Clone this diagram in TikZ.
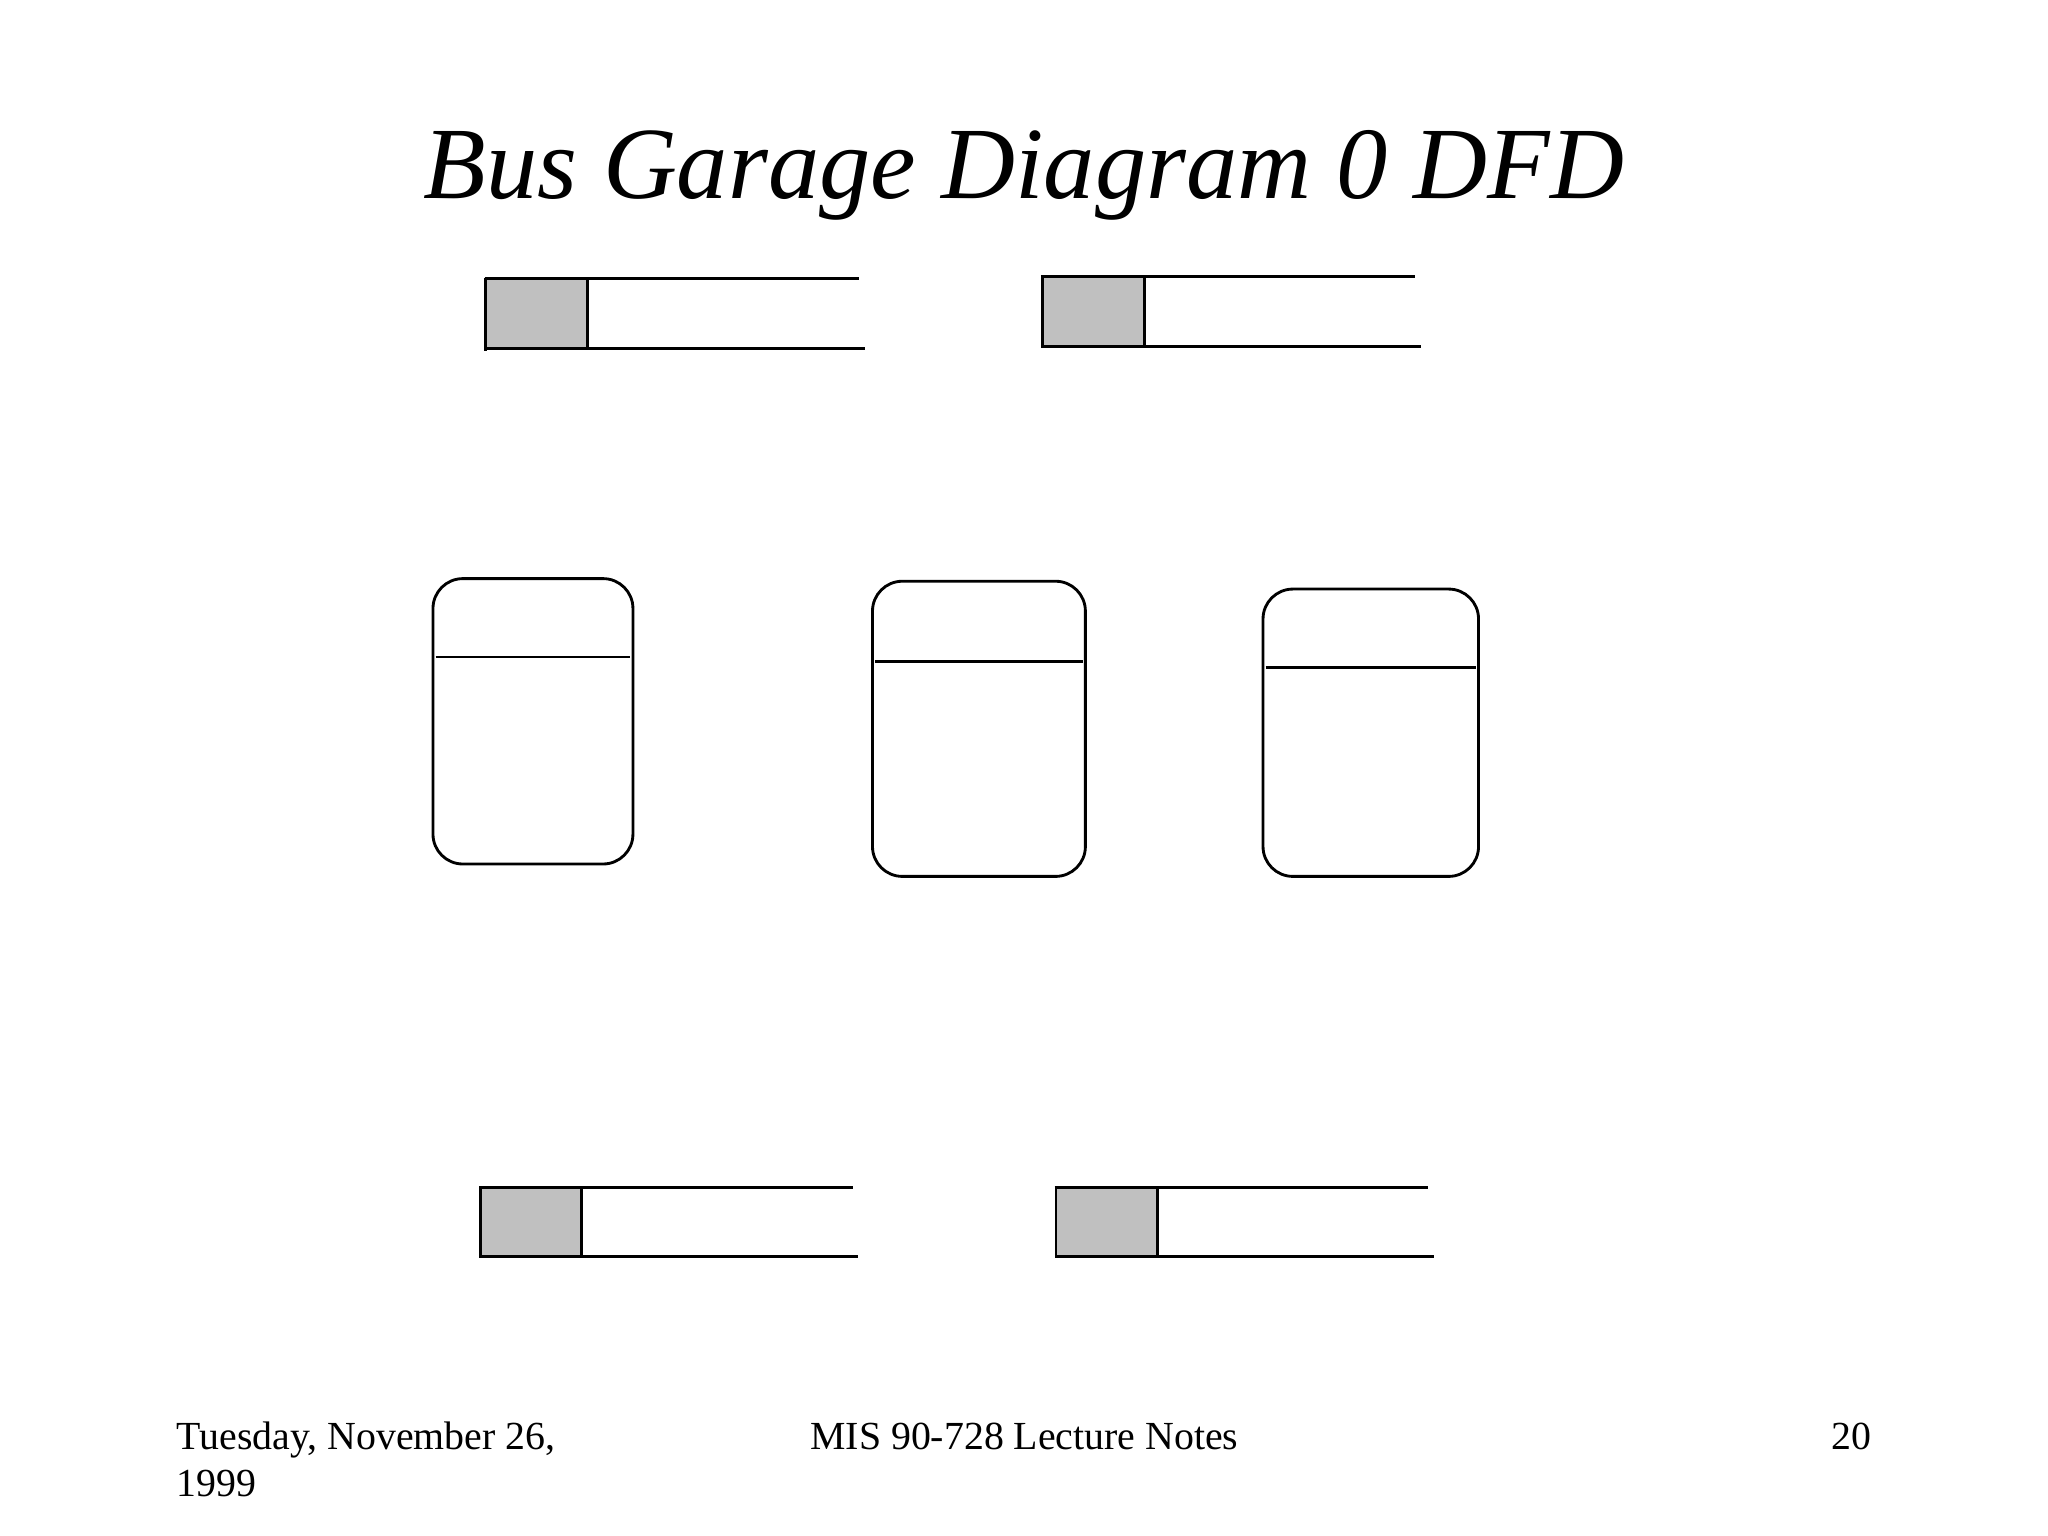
\documentclass[tikz,border=0pt]{standalone}
\usepackage{fontspec}
\setmainfont{Liberation Serif}
\definecolor{storegrey}{HTML}{C0C0C0}
\tikzset{
  ln/.style={draw=black, line width=1pt},
  greybox/.style={fill=storegrey},
  procbox/.style={draw=black, line width=1pt, rounded corners=10.5pt},
  ftext/.style={inner sep=0pt, font=\fontsize{14}{16.8}\selectfont},
}
\begin{document}
\begin{tikzpicture}[x=0.45918pt,y=-0.45918pt]
\useasboundingbox (0,0) rectangle (1568,1176);
% title
\node[anchor=base, inner sep=0pt, font=\fontsize{36}{43}\selectfont\itshape] (title) at (784,152) {Bus Garage Diagram 0 DFD};
% data store 1
\fill[greybox] (372,213) rectangle (450,267);
\draw[ln] (371,213) -- (658,213);
\draw[ln] (372,267) -- (662,267);
\draw[ln] (372,212.5) -- (372,268.5);
\draw[ln] (450,213) -- (450,267);
% data store 2
\fill[greybox] (798,212) rectangle (876,265);
\draw[ln] (797,212) -- (1083,212);
\draw[ln] (798,265) -- (1088,265);
\draw[ln] (798,211.5) -- (798,266.5);
\draw[ln] (876,212) -- (876,265);
% data store 3
\fill[greybox] (368,909) rectangle (445,962);
\draw[ln] (367,909) -- (653,909);
\draw[ln] (368,962) -- (657,962);
\draw[ln] (368,908.5) -- (368,963.5);
\draw[ln] (445,909) -- (445,962);
% data store 4
\fill[greybox] (808.5,909) rectangle (886.5,962);
\draw[ln] (807.5,909) -- (1093,909);
\draw[ln] (808.5,962) -- (1098,962);
\draw[ln] (808.5,908.5) -- (808.5,963.5);
\draw[ln] (886.5,909) -- (886.5,962);
% processes
\draw[procbox] (331.5,443) rectangle (484.6,661.5);
\draw[ln] (333.5,503) -- (482.6,503);
\draw[procbox] (668,445) rectangle (831,671);
\draw[ln] (670,506.5) -- (829,506.5);
\draw[procbox] (967,451) rectangle (1132,671);
\draw[ln] (969,511) -- (1130,511);
% footer
\node[ftext, anchor=base west] (date) at (135,1110) {Tuesday, November 26,};
\node[ftext, anchor=base west] (year) at (135,1146) {1999};
\node[ftext, anchor=base west] (course) at (620,1110) {MIS 90-728 Lecture Notes};
\node[ftext, anchor=base east] (page) at (1433,1110) {20};
\end{tikzpicture}
\end{document}
